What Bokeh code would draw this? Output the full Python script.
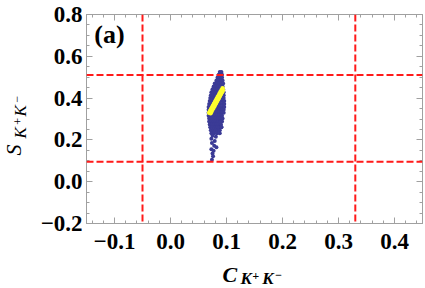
import math
from bokeh.plotting import figure
from bokeh.layouts import row, column
from bokeh.models import Range1d, LinearAxis, SingleIntervalTicker, CustomJSTickFormatter, Span, Label
from bokeh.embed import file_html
from bokeh.resources import INLINE

# ---- data ----
blue_row_y = [0.525, 0.512, 0.498, 0.484, 0.470, 0.456, 0.442, 0.428, 0.414, 0.400,
              0.386, 0.372, 0.358, 0.344, 0.330, 0.316, 0.302, 0.288, 0.274, 0.260,
              0.246, 0.232]
blue_row_x = [
    [0.088, 0.091],
    [0.086, 0.089, 0.092],
    [0.084, 0.088, 0.092],
    [0.082, 0.086, 0.090, 0.093],
    [0.079, 0.083, 0.087, 0.091, 0.094],
    [0.077, 0.081, 0.085, 0.089, 0.093],
    [0.075, 0.079, 0.083, 0.087, 0.091, 0.094],
    [0.073, 0.077, 0.081, 0.085, 0.089, 0.093, 0.095],
    [0.072, 0.076, 0.080, 0.084, 0.088, 0.092, 0.095],
    [0.071, 0.075, 0.079, 0.083, 0.087, 0.091, 0.095],
    [0.070, 0.074, 0.078, 0.082, 0.086, 0.090, 0.094, 0.096],
    [0.069, 0.073, 0.077, 0.081, 0.085, 0.089, 0.093, 0.096],
    [0.068, 0.072, 0.076, 0.080, 0.084, 0.088, 0.092, 0.096],
    [0.068, 0.072, 0.076, 0.080, 0.084, 0.088, 0.092, 0.095],
    [0.068, 0.072, 0.076, 0.080, 0.084, 0.088, 0.092, 0.095],
    [0.068, 0.072, 0.076, 0.080, 0.084, 0.088, 0.092],
    [0.069, 0.073, 0.077, 0.081, 0.085, 0.089, 0.093],
    [0.069, 0.073, 0.077, 0.081, 0.085, 0.089, 0.092],
    [0.070, 0.074, 0.078, 0.082, 0.086, 0.090],
    [0.071, 0.075, 0.079, 0.083, 0.087, 0.091],
    [0.072, 0.076, 0.080, 0.084, 0.088],
    [0.073, 0.078, 0.083, 0.088],
]
blue_sparse_x = [0.075, 0.081, 0.073, 0.079, 0.074, 0.078, 0.082, 0.073, 0.077, 0.075, 0.076, 0.074, 0.089, 0.091]
blue_sparse_y = [0.220, 0.215, 0.205, 0.195, 0.185, 0.172, 0.165, 0.155, 0.148, 0.135, 0.122, 0.105, 0.284, 0.262]

yellow_x = [0.069, 0.0707, 0.0724, 0.0741, 0.0758, 0.0775, 0.0792, 0.0809, 0.0826, 0.0843,
            0.086, 0.0877, 0.0894, 0.0911, 0.093,
            0.0715, 0.0732, 0.0749, 0.0766, 0.0783, 0.0800, 0.0817, 0.0834, 0.0851, 0.0868,
            0.0885, 0.0902, 0.0919, 0.0936]
yellow_y = [0.330, 0.338, 0.347, 0.355, 0.363, 0.372, 0.380, 0.388, 0.397, 0.405,
            0.413, 0.422, 0.430, 0.438, 0.447,
            0.328, 0.336, 0.345, 0.353, 0.361, 0.370, 0.378, 0.386, 0.395, 0.403,
            0.411, 0.420, 0.428, 0.436]

vlines = [-0.05, 0.33]
hlines = [0.51, 0.095]

panel_label = "(a)"
x_title = "C"
y_title = "S"
sub_letter = "K"
sub_plus = "+"
sub_minus = "\u2212"

blue_x, blue_y = [], []
for yv, xs in zip(blue_row_y, blue_row_x):
    for xv in xs:
        blue_x.append(xv)
        blue_y.append(yv)
blue_x += blue_sparse_x
blue_y += blue_sparse_y

# ---- layout sizes ----
W, H = 425, 288
LEFT_W = 34
BOTTOM_H = 30
MAIN_W = W - LEFT_W
MAIN_H = H - BOTTOM_H

GRAY = "#a0a0a0"
SERIF = "Liberation Serif"

p = figure(width=MAIN_W, height=MAIN_H, output_backend="svg", toolbar_location=None,
           x_range=Range1d(-0.15, 0.45), y_range=Range1d(-0.2, 0.8),
           min_border_left=86 - LEFT_W, min_border_right=3, min_border_top=14, min_border_bottom=35)
p.grid.visible = False
p.outline_line_color = GRAY
p.background_fill_color = "white"
p.border_fill_color = "white"

fmt = CustomJSTickFormatter(code="return (tick < -1e-9 ? '\u2212' : '') + Math.abs(tick).toFixed(1);")
blank_fmt = CustomJSTickFormatter(code="return '';")

def style_axis(ax, show_labels):
    ax.axis_line_color = GRAY
    ax.major_tick_line_color = GRAY
    ax.minor_tick_line_color = GRAY
    ax.major_tick_in = 6
    ax.major_tick_out = 0
    ax.minor_tick_in = 3
    ax.minor_tick_out = 0
    if show_labels:
        ax.formatter = fmt
        ax.major_label_text_font = SERIF
        ax.major_label_text_font_style = "bold"
        ax.major_label_text_font_size = "23px"
        ax.major_label_text_color = "black"
    else:
        ax.formatter = blank_fmt
        ax.major_label_standoff = 0

p.xaxis[0].ticker = SingleIntervalTicker(interval=0.1, num_minor_ticks=5)
p.yaxis[0].ticker = SingleIntervalTicker(interval=0.2, num_minor_ticks=4)
style_axis(p.xaxis[0], True)
style_axis(p.yaxis[0], True)
p.xaxis[0].major_label_standoff = 10
p.yaxis[0].major_label_standoff = 4

top = LinearAxis(ticker=SingleIntervalTicker(interval=0.1, num_minor_ticks=5))
right = LinearAxis(ticker=SingleIntervalTicker(interval=0.2, num_minor_ticks=4))
style_axis(top, False)
style_axis(right, False)
p.add_layout(top, "above")
p.add_layout(right, "right")

p.scatter(blue_x, blue_y, size=4, fill_color="#3b3b96", line_color=None)
p.scatter(yellow_x, yellow_y, size=4.5, fill_color="#ffff2e", line_color=None)

for v in vlines:
    p.add_layout(Span(location=v, dimension="height", line_color="#ff1a1a",
                      line_dash="7 3", line_width=2))
for h in hlines:
    p.add_layout(Span(location=h, dimension="width", line_color="#ff1a1a",
                      line_dash="7 3", line_width=2))

p.add_layout(Label(x=-0.136, y=0.705, text=panel_label, text_font=SERIF, text_font_style="bold",
                   text_font_size="26px", text_baseline="middle", text_color="black"))

# ---- title strips ----
def strip(w, h, x_range):
    f = figure(width=w, height=h, output_backend="svg", toolbar_location=None,
               x_range=x_range, y_range=Range1d(0, h),
               x_axis_type=None, y_axis_type=None, min_border=0)
    f.grid.visible = False
    f.outline_line_color = None
    f.background_fill_color = "white"
    f.border_fill_color = "white"
    return f

def txt(fig, x, y, text, size, style, angle=0.0):
    fig.add_layout(Label(x=x, y=y, text=text, text_font=SERIF, text_font_style=style,
                         text_font_size=size, text_baseline="middle", angle=angle,
                         text_color="black"))

R = math.pi / 2
left = strip(LEFT_W, H, Range1d(0, LEFT_W))
txt(left, 12.5, 133, y_title, "22px", "italic", R)
txt(left, 20, 150, sub_letter, "17px", "italic", R)
txt(left, 17, 163, sub_plus, "12px", "italic", R)
txt(left, 20, 172, sub_letter, "17px", "italic", R)
txt(left, 16, 185, sub_minus, "12px", "italic", R)

# bottom strip shares the main x scale (its frame is aligned with the main frame)
bottom = strip(MAIN_W, BOTTOM_H, p.x_range)
txt(bottom, 0.093, 14, x_title, "22px", "bold italic")
txt(bottom, 0.125, 10, sub_letter, "17px", "bold italic")
txt(bottom, 0.146, 13, sub_plus, "12px", "bold italic")
txt(bottom, 0.164, 10, sub_letter, "17px", "bold italic")
txt(bottom, 0.186, 14, sub_minus, "12px", "bold italic")

layout = row(left, column(p, bottom, spacing=0), spacing=0)

open("out.html", "w").write(file_html(layout, INLINE))
